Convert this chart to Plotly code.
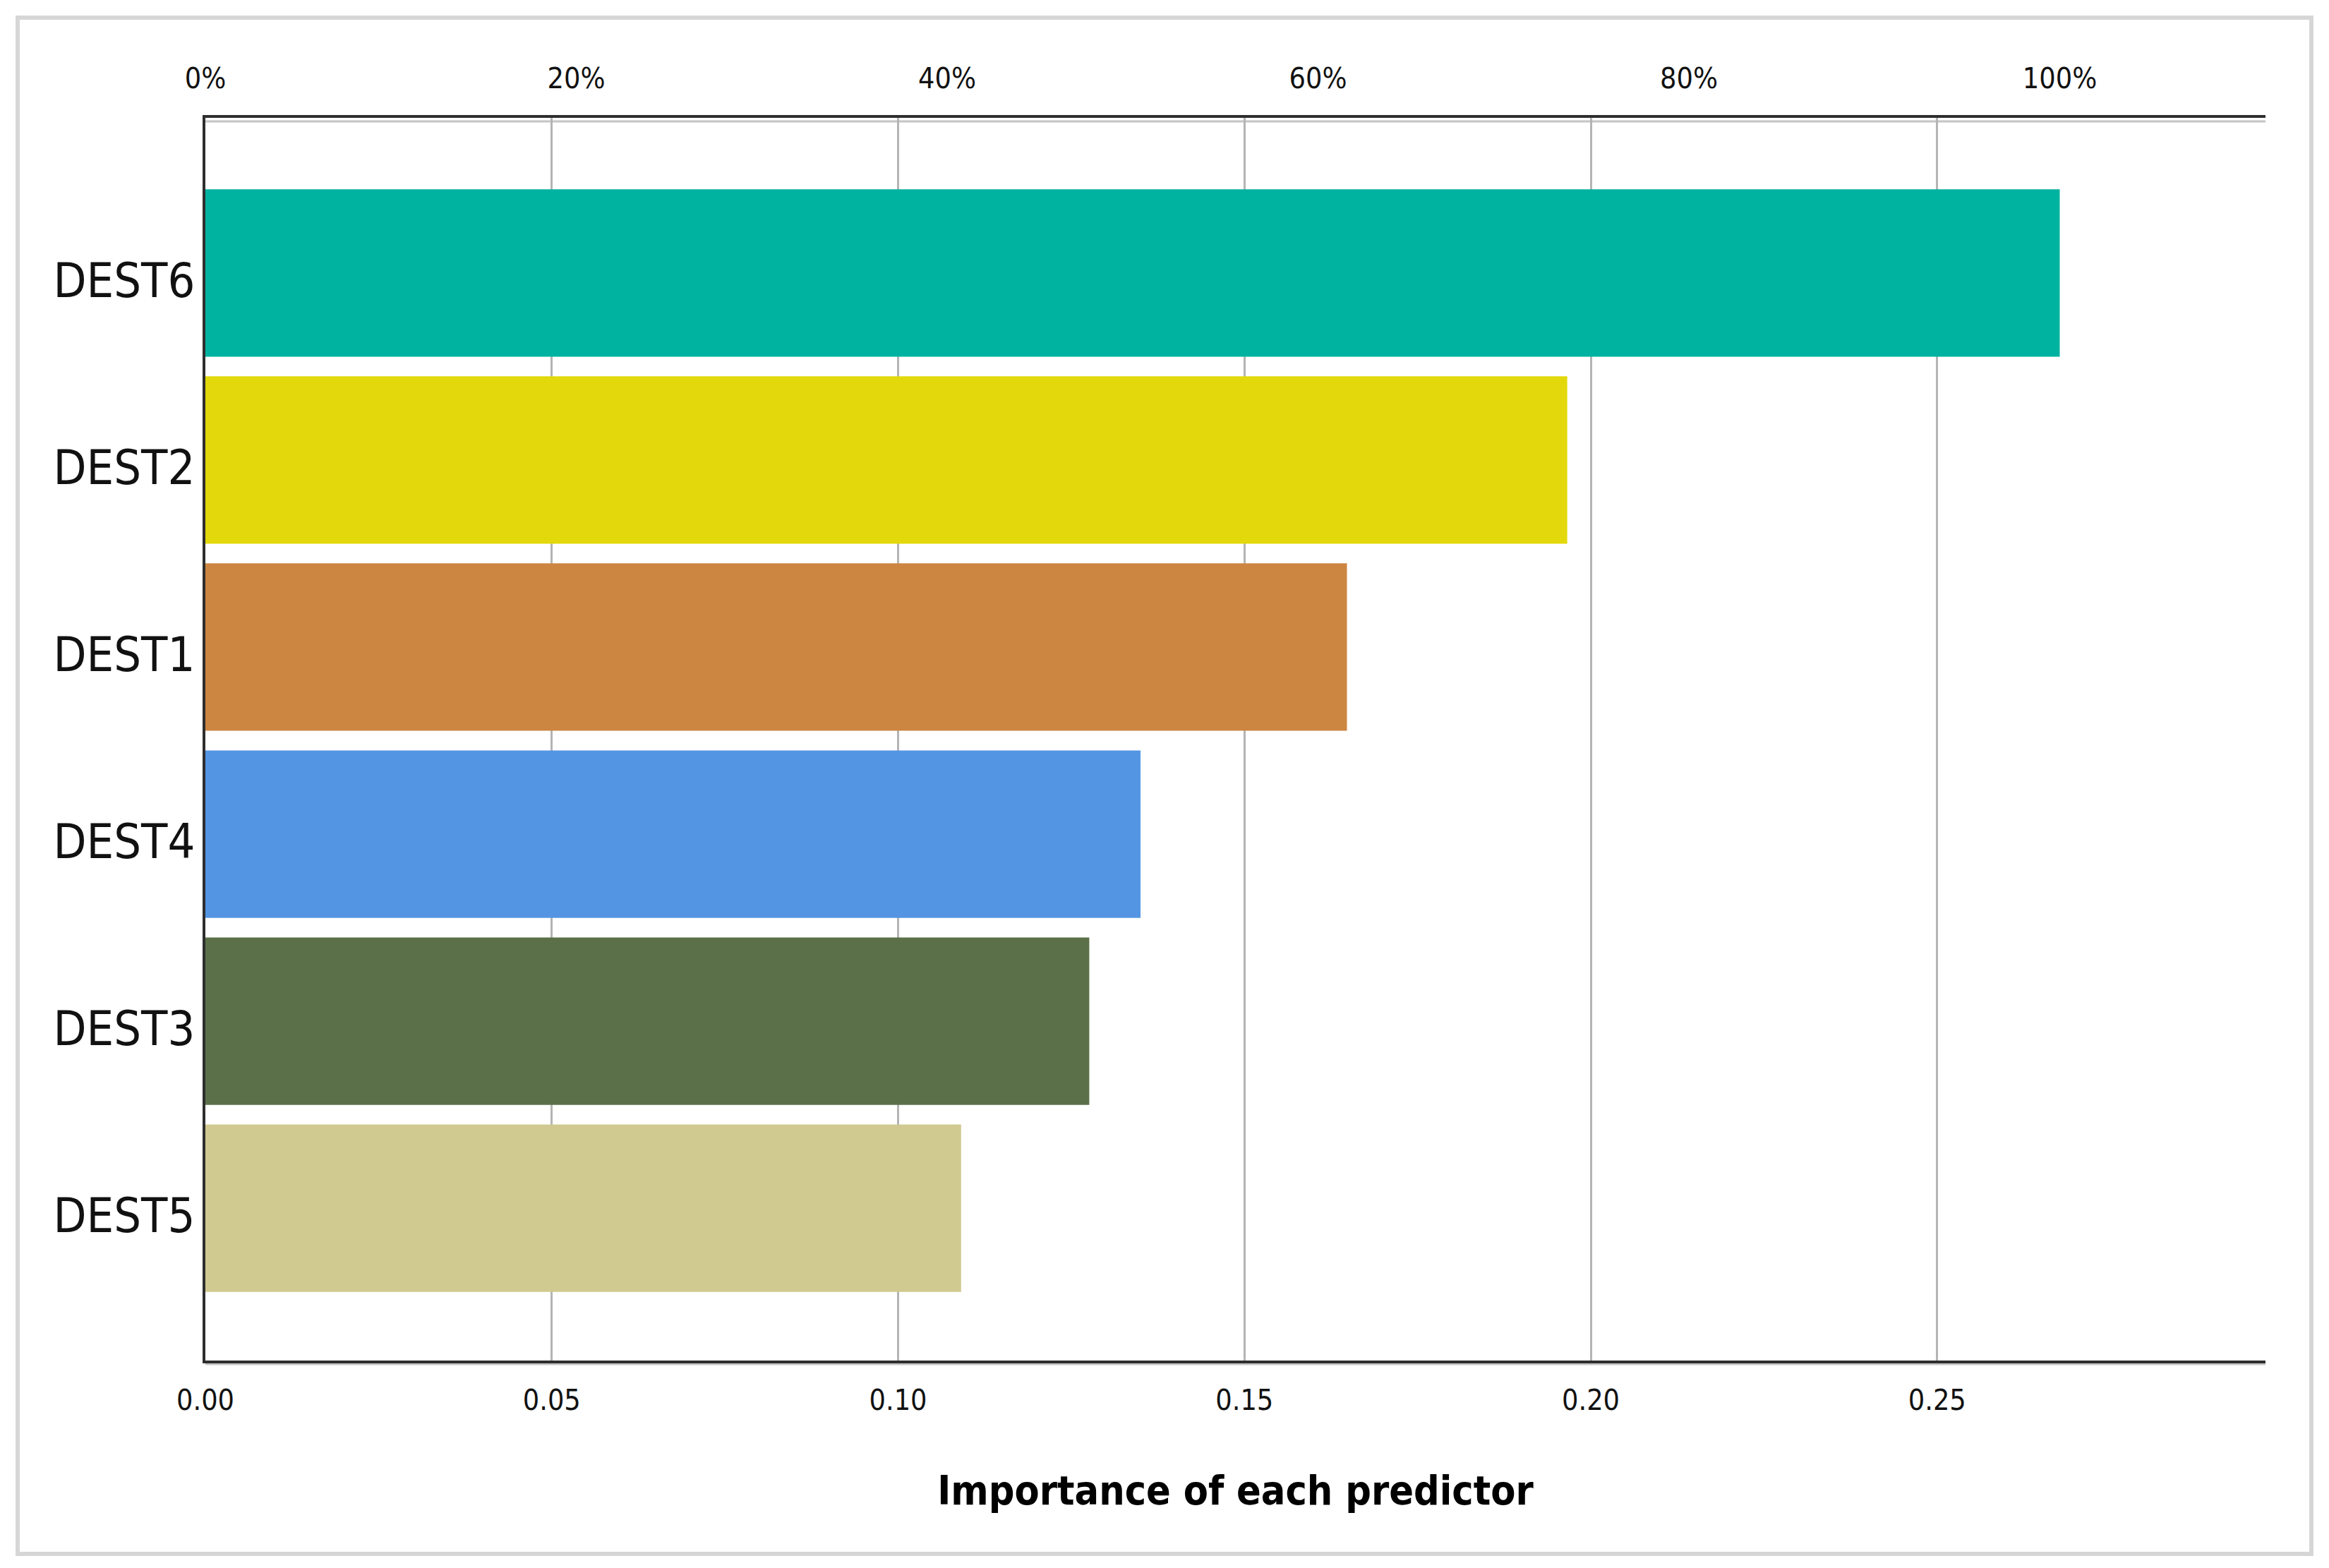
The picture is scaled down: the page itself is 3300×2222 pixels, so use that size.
import plotly.graph_objects as go

# ---- data ----
categories = ["DEST6", "DEST2", "DEST1", "DEST4", "DEST3", "DEST5"]
importance = [0.2677, 0.1966, 0.1648, 0.1350, 0.1276, 0.1091]
bar_colors = ["#00B3A1", "#E3D80B", "#CC8641", "#5495E3", "#5B7048", "#D0CA91"]
bottom_ticks = [0.00, 0.05, 0.10, 0.15, 0.20, 0.25]
bottom_tick_labels = ["0.00", "0.05", "0.10", "0.15", "0.20", "0.25"]
top_ticks = [0, 20, 40, 60, 80, 100]
top_tick_labels = ["0%", "20%", "40%", "60%", "80%", "100%"]
x_title = "Importance of each predictor"
x_max = 0.2974

W, H = 3300, 2222
OFF = 8  # page body margin offset
ML, MT = 291 - OFF, 167 - OFF
MR, MB = W + OFF - 3210, H + OFF - 1928

FONT = "DejaVu Sans Condensed, Liberation Sans, Arial, sans-serif"

max_val = max(importance)
pct = [v / max_val * 100 for v in importance]

fig = go.Figure()
fig.add_trace(go.Bar(
    x=importance, y=categories, orientation="h",
    marker=dict(color=bar_colors, line=dict(width=0)),
    width=0.895, showlegend=False,
    hovertemplate="%{y}: %{x:.3f}<extra></extra>",
))
# invisible companion trace so the percentage axis (relative to max) is drawn
fig.add_trace(go.Scatter(
    x=pct, y=categories, xaxis="x2", mode="markers",
    marker=dict(opacity=0), showlegend=False, hoverinfo="skip",
))

fig.update_layout(
    width=W, height=H,
    margin=dict(l=ML, r=MR, t=MT, b=MB),
    paper_bgcolor="white", plot_bgcolor="white",
    font=dict(family=FONT, color="#111111"),
    xaxis=dict(
        range=[0, x_max], tickvals=bottom_ticks, ticktext=bottom_tick_labels,
        showgrid=True, gridcolor="#B4B4B4", gridwidth=2.5,
        zeroline=False, showline=True, linecolor="#2E2E2E", linewidth=4,
        ticks="outside", ticklen=17, tickcolor="rgba(0,0,0,0)",
        tickfont=dict(size=41, family=FONT, color="#111111"),
        title=dict(text="<b>" + x_title + "</b>", font=dict(size=57, family=FONT, color="#000000"),
                   standoff=86),
        fixedrange=True,
    ),
    xaxis2=dict(
        overlaying="x", side="top", anchor="y",
        range=[0, x_max / max_val * 100], tickvals=top_ticks, ticktext=top_tick_labels,
        showgrid=False, zeroline=False, showline=True, linecolor="#2E2E2E", linewidth=4,
        ticks="outside", ticklen=22, tickcolor="rgba(0,0,0,0)",
        tickfont=dict(size=41, family=FONT, color="#111111"),
    ),
    yaxis=dict(
        categoryorder="array", categoryarray=categories,
        range=[5.814, -0.829],
        showgrid=False, zeroline=False, showline=True, linecolor="#2E2E2E", linewidth=4,
        ticks="outside", ticklen=1, tickcolor="rgba(0,0,0,0)", ticklabelstandoff=-4,
        ticklabelshift=-10,
        tickfont=dict(size=68, family=FONT, color="#111111"),
        fixedrange=True,
    ),
    bargap=0.1,
)

# outer light-gray frame of the exported chart
pw = W - ML - MR
ph = H - MT - MB
def px_x(p):
    return (p - OFF - ML) / pw
def px_y(p):
    return (H - MB - (p - OFF)) / ph
fig.add_shape(type="rect", xref="paper", yref="paper",
              x0=px_x(25), x1=px_x(3275), y0=px_y(2202), y1=px_y(25),
              line=dict(color="#D6D6D6", width=6), fillcolor="rgba(0,0,0,0)", layer="below")
# soft shadow under the top and bottom axis lines
for yp, dy in ((0, -5), (1, -5)):
    fig.add_shape(type="line", xref="paper", yref="paper", ysizemode="pixel", yanchor=yp,
                  x0=0, x1=1, y0=dy, y1=dy, line=dict(color="#C4C4C4", width=3), layer="below")

fig.write_html("out.html")
